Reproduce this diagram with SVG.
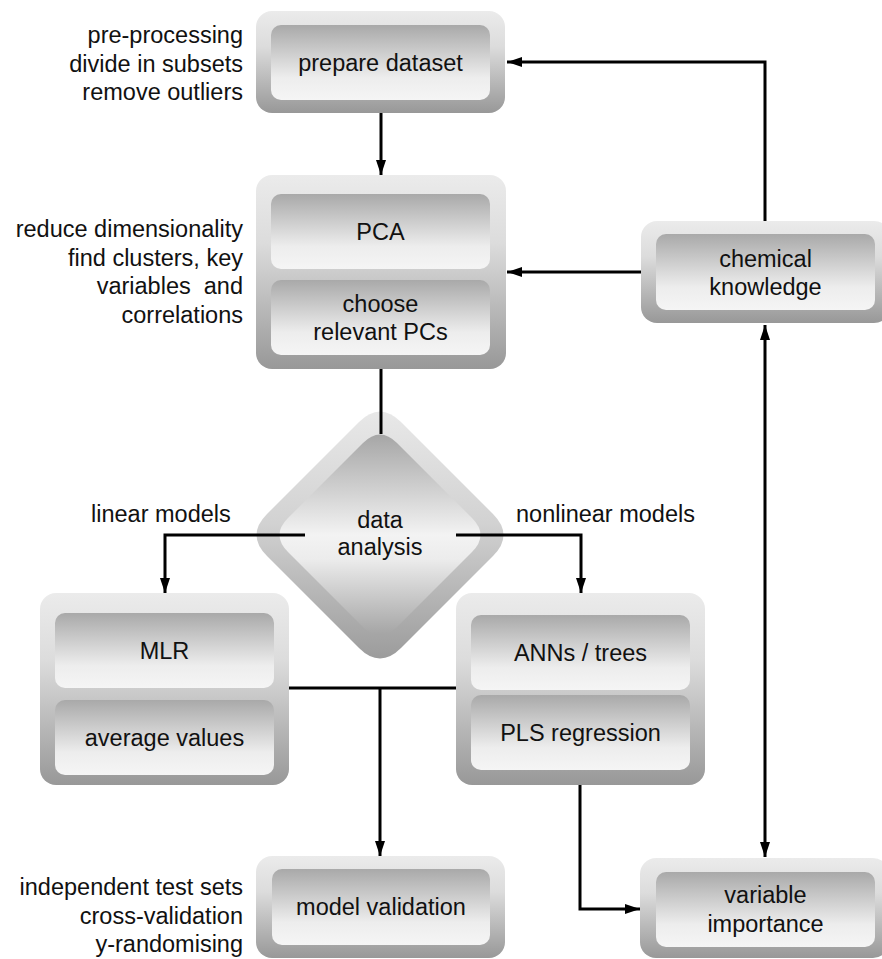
<svg xmlns="http://www.w3.org/2000/svg" width="882" height="959" viewBox="0 0 882 959">
<defs>
<linearGradient id="gOuter" x1="0" y1="0" x2="0" y2="1">
<stop offset="0" stop-color="#ebebeb"/>
<stop offset="0.35" stop-color="#dcdcdc"/>
<stop offset="1" stop-color="#989898"/>
</linearGradient>
<linearGradient id="gInner" x1="0" y1="0" x2="0" y2="1">
<stop offset="0" stop-color="#a9a9a9"/>
<stop offset="0.7" stop-color="#ededed"/>
<stop offset="1" stop-color="#f5f5f5"/>
</linearGradient>
<linearGradient id="gDOuter" x1="0" y1="0" x2="0" y2="1">
<stop offset="0" stop-color="#e8e8e8"/>
<stop offset="0.45" stop-color="#d2d2d2"/>
<stop offset="1" stop-color="#9c9c9c"/>
</linearGradient>
<linearGradient id="gDInner" x1="0" y1="0" x2="0" y2="1">
<stop offset="0" stop-color="#a6a6a6"/>
<stop offset="0.5" stop-color="#f3f3f3"/>
<stop offset="0.62" stop-color="#ececec"/>
<stop offset="1" stop-color="#a4a4a4"/>
</linearGradient>
<marker id="arr" viewBox="0 0 15 10" refX="15" refY="5" markerWidth="15" markerHeight="10" markerUnits="userSpaceOnUse" orient="auto-start-reverse">
<path d="M0,0 L15,5 L0,10 Z" fill="#000"/>
</marker>
<style>
.outer{fill:url(#gOuter);}
.inner{fill:url(#gInner);}
text{font-family:"Liberation Sans",Arial,sans-serif;font-size:23.5px;fill:#111;}
.c{text-anchor:middle;}
.r{text-anchor:end;white-space:pre;}
.conn path{fill:none;stroke:#000;stroke-width:3;}
</style>
</defs>

<g id="labels">
<text class="r" x="243" y="43">pre-processing</text>
<text class="r" x="243" y="71.5">divide in subsets</text>
<text class="r" x="243" y="100">remove outliers</text>
<text class="r" x="243" y="237">reduce dimensionality</text>
<text class="r" x="243" y="265.5">find clusters, key</text>
<text class="r" x="243" y="294">variables  and</text>
<text class="r" x="243" y="322.5">correlations</text>
<text x="91" y="522">linear models</text>
<text x="516" y="522">nonlinear models</text>
<text class="r" x="243" y="895">independent test sets</text>
<text class="r" x="243" y="923.5">cross-validation</text>
<text class="r" x="243" y="952">y-randomising</text>
</g>

<g id="prepare">
<rect class="outer" x="256" y="11" width="249" height="102" rx="16"/>
<rect class="inner" x="271" y="25" width="219" height="75" rx="10"/>
<text class="c" x="380.5" y="71">prepare dataset</text>
</g>

<g id="pca">
<rect class="outer" x="256" y="175" width="250" height="194" rx="16"/>
<rect class="inner" x="271" y="194" width="219" height="75" rx="10"/>
<rect class="inner" x="271" y="280" width="219" height="75" rx="10"/>
<text class="c" x="380.5" y="240">PCA</text>
<text class="c" x="380.5" y="312">choose</text>
<text class="c" x="380.5" y="340">relevant PCs</text>
</g>

<g id="chemical">
<rect class="outer" x="641" y="221" width="249" height="102" rx="16"/>
<rect class="inner" x="656" y="234" width="219" height="76" rx="10"/>
<text class="c" x="765.5" y="266.5">chemical</text>
<text class="c" x="765.5" y="294.5">knowledge</text>
</g>

<g id="analysis">
<path fill="url(#gDOuter)" d="M401,422 L493,514 Q514,535 493,556 L401,648 Q380,669 359,648 L267,556 Q246,535 267,514 L359,422 Q380,401 401,422 Z"/>
<path fill="url(#gDInner)" d="M397,443 L472,518 Q489,535 472,552 L397,627 Q380,644 363,627 L288,552 Q271,535 288,518 L363,443 Q380,426 397,443 Z"/>
<text class="c" x="380" y="528">data</text>
<text class="c" x="380" y="555">analysis</text>
</g>

<g id="mlr">
<rect class="outer" x="40" y="593" width="249" height="192" rx="16"/>
<rect class="inner" x="55" y="613" width="219" height="75" rx="10"/>
<rect class="inner" x="55" y="700" width="219" height="75" rx="10"/>
<text class="c" x="164.5" y="659">MLR</text>
<text class="c" x="164.5" y="745.5">average values</text>
</g>

<g id="anns">
<rect class="outer" x="456" y="593" width="249" height="192" rx="16"/>
<rect class="inner" x="471" y="615" width="219" height="75" rx="10"/>
<rect class="inner" x="471" y="695" width="219" height="75" rx="10"/>
<text class="c" x="580.5" y="661">ANNs / trees</text>
<text class="c" x="580.5" y="741">PLS regression</text>
</g>

<g id="validation">
<rect class="outer" x="256" y="856" width="249" height="102" rx="16"/>
<rect class="inner" x="272" y="869" width="218" height="76" rx="10"/>
<text class="c" x="381" y="915">model validation</text>
</g>

<g id="importance">
<rect class="outer" x="640" y="858" width="249" height="100" rx="16"/>
<rect class="inner" x="656" y="872" width="219" height="75" rx="10"/>
<text class="c" x="765.5" y="903">variable</text>
<text class="c" x="765.5" y="931.5">importance</text>
</g>

<g id="connectors" class="conn">
<path d="M765,221 V62 H507" marker-end="url(#arr)"/>
<path d="M381,113 V175" marker-end="url(#arr)"/>
<path d="M641,272 H507" marker-end="url(#arr)"/>
<path d="M381,369 V434"/>
<path d="M305,535 H165 V593" marker-end="url(#arr)"/>
<path d="M456,535 H581 V593" marker-end="url(#arr)"/>
<path d="M289,688 H456"/>
<path d="M380,688 V856" marker-end="url(#arr)"/>
<path d="M580,785 V909 H640" marker-end="url(#arr)"/>
<path d="M765,325 V857" marker-start="url(#arr)" marker-end="url(#arr)"/>
</g>
</svg>
